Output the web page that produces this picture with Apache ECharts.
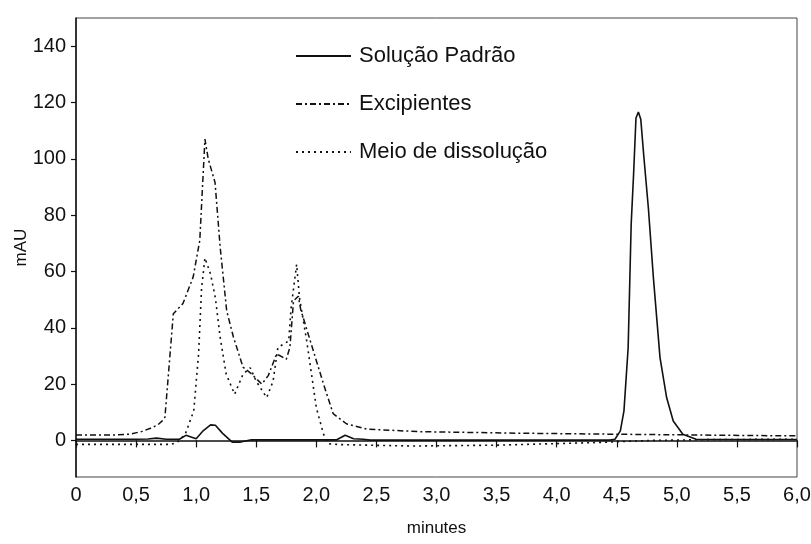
<!DOCTYPE html>
<html>
<head>
<meta charset="utf-8">
<script src="https://cdn.jsdelivr.net/npm/echarts@6/dist/echarts.min.js"></script>
<style>
  html, body { margin: 0; padding: 0; background: #fff; }
  #chart { width: 811px; height: 544px; }
</style>
</head>
<body>
<div id="chart"></div>
<script>
// Chromatogram traces: retention time (minutes) and absorbance (mAU)
const padraoTimes = [0, 0.5, 0.6, 0.67, 0.75, 0.86, 0.915, 1.0, 1.06, 1.12, 1.16, 1.22, 1.3, 1.37, 1.46,
  2.17, 2.24, 2.31, 2.39, 2.45, 3.5, 4.44, 4.485, 4.53, 4.56, 4.595, 4.62, 4.64, 4.66, 4.68, 4.70,
  4.727, 4.763, 4.805, 4.86, 4.915, 4.97, 5.05, 5.16, 5.5, 6.0];
const padraoValues = [0.4, 0.4, 0.5, 0.8, 0.4, 0.4, 1.8, 0.6, 3.5, 5.5, 5.4, 2.5, -0.6, -0.6, 0.2,
  0.2, 1.8, 0.6, 0.4, 0.1, 0.1, 0.1, 0.4, 3.4, 10.5, 33, 76.7, 94.4, 114.5, 116.6, 114,
  100, 82.6, 57.7, 29.4, 15.2, 6.9, 2.2, 0.4, 0.3, 0.3];

const excipTimes = [0, 0.3, 0.45, 0.55, 0.62, 0.68, 0.72, 0.74, 0.81, 0.89, 0.975, 1.03, 1.073, 1.10,
  1.157, 1.2, 1.254, 1.31, 1.39, 1.45, 1.546, 1.6, 1.67, 1.75, 1.78, 1.81, 1.85, 1.87, 1.95, 2.06,
  2.14, 2.25, 2.42, 2.86, 3.69, 4.47, 5.2, 6.0];
const excipValues = [1.9, 1.9, 2.2, 3.2, 4.3, 5.5, 7, 8.2, 45, 48.6, 58, 71, 107, 100,
  91.6, 68.5, 46, 36.7, 26, 24, 20, 23, 30.7, 28.8, 33, 49.5, 51.2, 46.5, 35.3, 20,
  9.5, 5.9, 4, 3.1, 2.55, 2.2, 1.9, 1.6];

const meioTimes = [0, 0.5, 0.79, 0.84, 0.91, 0.98, 1.02, 1.045, 1.073, 1.12, 1.16, 1.2, 1.25, 1.32,
  1.39, 1.45, 1.5, 1.587, 1.64, 1.68, 1.77, 1.79, 1.836, 1.86, 1.92, 1.96, 2.0, 2.06, 2.1, 2.2,
  2.8, 3.5, 4.3, 4.8, 5.3, 6.0];
const meioValues = [-1.4, -1.4, -1.4, -0.8, 2.3, 10.5, 30.7, 54, 64.8, 59, 50.6, 36.5, 23.5, 16.4,
  23.5, 25.8, 21, 15.2, 21, 33, 35.3, 47, 62.5, 50.6, 35.3, 23.5, 11.6, 2.2, -1.2, -1.5,
  -2.0, -1.7, -0.8, 0, 0.3, 0.4];

const seriesNames = ['Solução Padrão', 'Excipientes', 'Meio de dissolução'];
const yTickValues = [0, 20, 40, 60, 80, 100, 120, 140];

const pairs = (ts, vs) => ts.map((t, i) => [t, vs[i]]);

const sansFont = '"Liberation Sans", Arial, sans-serif';
const ink = '#111';

const chart = echarts.init(document.getElementById('chart'), null, { renderer: 'canvas' });

chart.setOption({
  animation: false,
  backgroundColor: '#fff',
  grid: {
    left: 76, right: 14, top: 18, bottom: 67,
    outerBoundsMode: 'none',
    show: true, borderColor: '#444', borderWidth: 1
  },
  legend: {
    orient: 'vertical',
    left: 290,
    top: 39,
    itemWidth: 55,
    itemHeight: 14,
    itemGap: 24,
    data: seriesNames,
    itemStyle: { opacity: 0 },
    textStyle: {
      fontFamily: sansFont,
      fontSize: 22,
      lineHeight: 24,
      color: ink,
      padding: [0, 0, 0, 3]
    }
  },
  xAxis: {
    type: 'value',
    min: 0, max: 6, interval: 0.5,
    name: 'minutes',
    nameLocation: 'middle',
    nameGap: 43,
    nameMoveOverlap: false,
    nameTextStyle: { fontFamily: sansFont, fontSize: 17, color: ink },
    axisLine: { show: true, lineStyle: { color: ink, width: 1.5 } },
    axisTick: { show: true, length: 7, lineStyle: { color: ink, width: 1.2 } },
    axisLabel: {
      fontFamily: sansFont, fontSize: 20, color: ink, margin: 8,
      formatter: v => v === 0 ? '0' : v.toFixed(1).replace('.', ',')
    },
    splitLine: { show: false }
  },
  yAxis: {
    type: 'value',
    min: -13, max: 150,
    name: 'mAU',
    nameLocation: 'middle',
    nameGap: 46,
    nameMoveOverlap: false,
    nameTextStyle: { fontFamily: sansFont, fontSize: 17, color: ink },
    axisLine: { show: true, lineStyle: { color: ink, width: 1.5 } },
    axisTick: { show: true, length: 5, customValues: yTickValues, lineStyle: { color: ink, width: 1.2 } },
    axisLabel: {
      fontFamily: sansFont, fontSize: 20, color: ink, margin: 10,
      customValues: yTickValues
    },
    splitLine: { show: false }
  },
  series: [
    {
      name: seriesNames[0],
      type: 'line',
      data: pairs(padraoTimes, padraoValues),
      showSymbol: false, symbol: 'none',
      lineStyle: { color: ink, width: 1.6, type: 'solid' },
      itemStyle: { color: ink }
    },
    {
      name: seriesNames[1],
      type: 'line',
      data: pairs(excipTimes, excipValues),
      showSymbol: false, symbol: 'none',
      lineStyle: { color: ink, width: 1.5, type: [6, 3, 2, 3] },
      itemStyle: { color: ink }
    },
    {
      name: seriesNames[2],
      type: 'line',
      data: pairs(meioTimes, meioValues),
      showSymbol: false, symbol: 'none',
      lineStyle: { color: ink, width: 1.6, type: [2, 4] },
      itemStyle: { color: ink }
    }
  ]
});
</script>
</body>
</html>
